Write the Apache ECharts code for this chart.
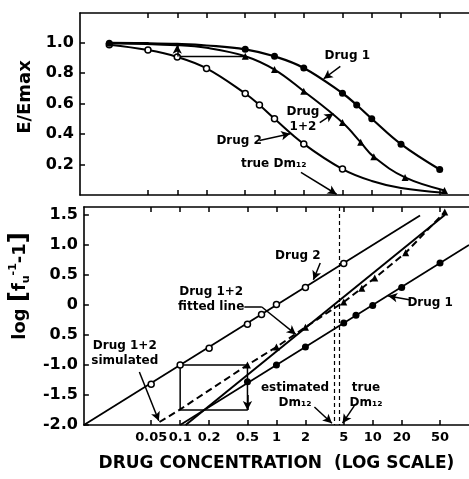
<!DOCTYPE html>
<html><head><meta charset="utf-8">
<script src="https://cdn.jsdelivr.net/npm/echarts@6/dist/echarts.min.js"></script>
<style>html,body{margin:0;padding:0;background:#fff}#c{width:469px;height:479px}</style>
</head><body><div id="c"></div>
<script>
// ---------- tick labels ----------
const xTickValues = [0.05, 0.1, 0.2, 0.5, 1, 2, 5, 10, 20, 50];
const xTickLabels = ['0.05', '0.1', '0.2', '0.5', '1', '2', '5', '10', '20', '50'];
const topYTicks = [0.2, 0.4, 0.6, 0.8, 1.0];
const topYLabels = ['0.2', '0.4', '0.6', '0.8', '1.0'];
const botYTicks = [-2, -1.5, -1, -0.5, 0, 0.5, 1, 1.5];
const botYLabels = ['-2.0', '-1.5', '-1.0', '0.5', '0', '0.5', '1.0', '1.5'];

// ---------- top panel (E/Emax) ----------
const drug1TopCurve = [[0.02, 0.998], [0.05, 0.995], [0.1, 0.99], [0.2, 0.98], [0.5, 0.955], [1, 0.909], [2, 0.833], [5, 0.667], [7, 0.59], [10, 0.5], [20, 0.333], [50, 0.167]];
const drug1TopPoints = [[0.02, 0.995], [0.5, 0.955], [1, 0.909], [2, 0.833], [5, 0.667], [7, 0.59], [10, 0.5], [20, 0.333], [50, 0.167]];
const drug2TopCurve = [[0.02, 0.985], [0.05, 0.95], [0.1, 0.905], [0.2, 0.83], [0.5, 0.665], [0.7, 0.59], [1, 0.5], [2, 0.335], [5, 0.17], [10, 0.092], [20, 0.046], [55, 0.015]];
const drug2TopPoints = [[0.02, 0.985], [0.05, 0.95], [0.1, 0.905], [0.2, 0.83], [0.5, 0.665], [0.7, 0.59], [1, 0.5], [2, 0.335], [5, 0.17]];
const comboTopCurve = [[0.02, 0.995], [0.1, 0.982], [0.2, 0.965], [0.5, 0.91], [1, 0.822], [2, 0.68], [5, 0.475], [7.7, 0.345], [10.5, 0.25], [22, 0.115], [56, 0.03]];
const comboTopPoints = [[0.5, 0.91], [1, 0.822], [2, 0.68], [5, 0.475], [7.7, 0.345], [10.5, 0.25], [22, 0.115], [56, 0.03]];
const topConstruct = [[0.1, 0.908], [0.5, 0.908]];

// ---------- bottom panel (median-effect plot) ----------
const drug2BotLine = [[0.01, -2.0], [31, 1.49]];
const drug2BotPoints = [[0.05, -1.32], [0.1, -1.0], [0.2, -0.72], [0.5, -0.32], [0.7, -0.16], [1, 0.01], [2, 0.29], [5, 0.69]];
const drug1BotLine = [[0.1, -2.0], [100, 1.0]];
const drug1BotPoints = [[0.5, -1.28], [1, -1.0], [2, -0.7], [5, -0.3], [6.7, -0.17], [10, -0.01], [20, 0.29], [50, 0.7]];
const fittedLine = [[0.114, -2.0], [56, 1.5]];
const simulatedLine = [[0.061, -1.95], [0.1, -1.74], [0.5, -1.0], [1, -0.7], [2, -0.37], [5, 0.05], [7.7, 0.28], [10.5, 0.45], [22, 0.87], [56, 1.55]];
const comboBotPoints = [[0.5, -1.0], [1, -0.7], [2, -0.37], [5, 0.05], [7.7, 0.28], [10.5, 0.45], [22, 0.87], [56, 1.55]];
const rectPath = [[0.1, -1.0], [0.1, -1.75], [0.5, -1.75], [0.5, -1.0], [0.1, -1.0]];
const trueDm12 = 4.54;
const estDm12 = 3.95;

// ---------- chart ----------
const FONT = 'DejaVu Sans';
function pick(vals, labels) {
  return function (v) {
    for (let i = 0; i < vals.length; i++) if (Math.abs(vals[i] - v) < 1e-6 * Math.max(1, Math.abs(v))) return labels[i];
    return '';
  };
}
function xAxis(gridIndex, position, showLabels) {
  return {
    type: 'log', logBase: 10, min: 0.01, max: 100, gridIndex, position,
    axisLine: { show: true, onZero: false, lineStyle: { color: '#000', width: 1.6 } },
    axisTick: { show: true, inside: true, length: 5, customValues: xTickValues, lineStyle: { color: '#000', width: 1.5 } },
    minorTick: { show: false }, splitLine: { show: false },
    axisLabel: showLabels ? { show: true, interval: 0, hideOverlap: false, customValues: xTickValues, formatter: pick(xTickValues, xTickLabels), color: '#000', fontFamily: FONT, fontWeight: 'bold', fontSize: 13, margin: 6 } : { show: false },
    name: showLabels ? 'DRUG CONCENTRATION  (LOG SCALE)' : '',
    nameLocation: 'middle', nameGap: 30,
    nameTextStyle: { color: '#000', fontFamily: FONT, fontWeight: 'bold', fontSize: 17 }
  };
}
const solid = (w) => ({ color: '#000', width: w });
const ann = (x, y, text) => ({ value: [x, y], label: { formatter: text } });
const arrow = (a, b) => [{ coord: a }, { coord: b }];

const labelStyle = { show: true, position: 'inside', color: '#000', opacity: 1, textBorderWidth: 0, fontFamily: FONT, fontWeight: 'bold', fontSize: 12, lineHeight: 15 };
const arrowLine = { symbol: ['none', 'arrow'], symbolSize: [7, 9], silent: true, label: { show: false }, lineStyle: { color: '#000', width: 1.5, type: 'solid', opacity: 1 }, emphasis: { disabled: true } };
const pts = (data, kind) => ({
  type: 'scatter', data, silent: true, z: 4,
  symbol: kind === 'tri' ? 'triangle' : 'circle',
  symbolSize: kind === 'open' ? 6 : 7,
  itemStyle: kind === 'open' ? { color: '#fff', borderColor: '#000', borderWidth: 1.5, opacity: 1 } : { color: '#000', opacity: 1 }
});

const option = {
  animation: false,
  backgroundColor: '#fff',
  grid: [
    { left: 80, right: -7, top: 13, height: 182 },
    { left: 80, right: -7, top: 207, height: 218 }
  ],
  xAxis: [xAxis(0, 'bottom', false), xAxis(0, 'top', false), xAxis(1, 'bottom', true), xAxis(1, 'top', false)],
  yAxis: [
    {
      type: 'value', gridIndex: 0, min: 0, max: 1.193,
      axisLine: { show: true, onZero: false, lineStyle: { color: '#000', width: 1.6 } },
      axisTick: { show: true, inside: true, length: 5, customValues: topYTicks, lineStyle: { color: '#000', width: 1.5 } },
      splitLine: { show: false },
      axisLabel: { customValues: topYTicks, formatter: pick(topYTicks, topYLabels), color: '#000', fontFamily: FONT, fontWeight: 'bold', fontSize: 16, margin: 6 },
      name: 'E/Emax', nameLocation: 'middle', nameGap: 44,
      nameTextStyle: { color: '#000', fontFamily: FONT, fontWeight: 'bold', fontSize: 18, padding: [0, 0, 0, 14] }
    },
    {
      type: 'value', gridIndex: 1, min: -2, max: 1.633,
      axisLine: { show: true, onZero: false, lineStyle: { color: '#000', width: 1.6 } },
      axisTick: { show: true, inside: true, length: 5, customValues: botYTicks, lineStyle: { color: '#000', width: 1.5 } },
      splitLine: { show: false },
      axisLabel: { customValues: botYTicks, formatter: pick(botYTicks, botYLabels), color: '#000', fontFamily: FONT, fontWeight: 'bold', fontSize: 16, margin: 6 },
      name: '{t|log }{b|[}{t|f}{s|u}{p|-1}{t|-1}{b|]}', nameLocation: 'middle', nameGap: 42,
      nameTextStyle: {
        color: '#000', fontFamily: FONT, fontWeight: 'bold', fontSize: 18, padding: [0, 0, 0, 60],
        rich: {
          t: { fontFamily: FONT, fontWeight: 'bold', fontSize: 18, color: '#000' },
          b: { fontFamily: FONT, fontWeight: 'bold', fontSize: 24, color: '#000' },
          s: { fontFamily: FONT, fontWeight: 'bold', fontSize: 11, color: '#000', verticalAlign: 'bottom' },
          p: { fontFamily: FONT, fontWeight: 'bold', fontSize: 11, color: '#000', verticalAlign: 'top' }
        }
      }
    }
  ],
  series: [
    // ---- top panel ----
    { type: 'line', xAxisIndex: 0, yAxisIndex: 0, data: drug2TopCurve, smooth: 0.4, showSymbol: false, lineStyle: solid(2), z: 2, silent: true },
    { type: 'line', xAxisIndex: 0, yAxisIndex: 0, data: drug1TopCurve, smooth: 0.4, showSymbol: false, lineStyle: solid(2.2), z: 2, silent: true },
    { type: 'line', xAxisIndex: 0, yAxisIndex: 0, data: comboTopCurve, smooth: 0.4, showSymbol: false, lineStyle: solid(2), z: 2, silent: true },
    { type: 'line', xAxisIndex: 0, yAxisIndex: 0, data: topConstruct, showSymbol: false, lineStyle: solid(1.5), z: 2, silent: true },
    Object.assign(pts(drug2TopPoints, 'open'), { xAxisIndex: 0, yAxisIndex: 0 }),
    Object.assign(pts(drug1TopPoints, 'fill'), { xAxisIndex: 0, yAxisIndex: 0 }),
    Object.assign(pts(comboTopPoints, 'tri'), { xAxisIndex: 0, yAxisIndex: 0 }),
    {
      type: 'scatter', xAxisIndex: 0, yAxisIndex: 0, symbolSize: 0, silent: true, clip: false, z: 5,
      itemStyle: { opacity: 1 },
      label: labelStyle,
      data: [
        ann(5.6, 0.915, 'Drug 1'),
        ann(1.96, 0.495, 'Drug\n1+2'),
        ann(0.433, 0.357, 'Drug 2'),
        ann(0.98, 0.207, 'true Dm₁₂')
      ],
      markLine: Object.assign({}, arrowLine, {
        data: [
          arrow([4.75, 0.843], [3.2, 0.762]),
          arrow([2.92, 0.475], [4.04, 0.534]),
          arrow([0.70, 0.357], [1.45, 0.402]),
          arrow([1.87, 0.148], [4.35, 0.005]),
          arrow([0.1, 0.908], [0.1, 0.985]),
          [{ coord: [trueDm12, 0.5], symbol: 'none', lineStyle: { type: [4, 3], width: 1.2 } }, { coord: [trueDm12, -0.085], symbol: 'none' }]
        ]
      })
    },
    // ---- bottom panel ----
    { type: 'line', xAxisIndex: 2, yAxisIndex: 1, data: drug2BotLine, showSymbol: false, lineStyle: solid(1.8), z: 2, silent: true },
    { type: 'line', xAxisIndex: 2, yAxisIndex: 1, data: drug1BotLine, showSymbol: false, lineStyle: solid(1.8), z: 2, silent: true },
    { type: 'line', xAxisIndex: 2, yAxisIndex: 1, data: fittedLine, showSymbol: false, lineStyle: solid(2), z: 2, silent: true },
    { type: 'line', xAxisIndex: 2, yAxisIndex: 1, data: simulatedLine, showSymbol: false, lineStyle: { color: '#000', width: 2, type: [7, 4] }, z: 2, silent: true },
    { type: 'line', xAxisIndex: 2, yAxisIndex: 1, data: rectPath, showSymbol: false, lineStyle: solid(1.5), z: 2, silent: true },
    Object.assign(pts(drug2BotPoints, 'open'), { xAxisIndex: 2, yAxisIndex: 1 }),
    Object.assign(pts(drug1BotPoints, 'fill'), { xAxisIndex: 2, yAxisIndex: 1 }),
    Object.assign(pts(comboBotPoints, 'tri'), { xAxisIndex: 2, yAxisIndex: 1 }),
    {
      type: 'scatter', xAxisIndex: 2, yAxisIndex: 1, symbolSize: 0, silent: true, clip: false, z: 5,
      itemStyle: { opacity: 1 },
      label: labelStyle,
      data: [
        ann(1.67, 0.817, 'Drug 2'),
        ann(0.21, 0.10, 'Drug 1+2\nfitted line'),
        ann(39.5, 0.033, 'Drug 1'),
        ann(0.0266, -0.80, 'Drug 1+2\nsimulated'),
        ann(1.56, -1.5, 'estimated\nDm₁₂'),
        ann(8.5, -1.5, 'true\nDm₁₂')
      ],
      markLine: Object.assign({}, arrowLine, {
        data: [
          arrow([2.85, 0.70], [2.42, 0.42]),
          [{ coord: [0.464, -0.033], symbol: 'none' }, { coord: [0.705, -0.033], symbol: 'none' }],
          arrow([0.705, -0.033], [1.59, -0.49]),
          arrow([24.8, 0.083], [14.5, 0.15]),
          arrow([0.0377, -1.117], [0.060, -1.93]),
          arrow([2.48, -1.7], [3.77, -1.97]),
          arrow([6.43, -1.68], [4.86, -1.97]),
          arrow([0.5, -1.5], [0.5, -1.75]),
          [{ coord: [trueDm12, 1.633], symbol: 'none', lineStyle: { type: [4, 3], width: 1.2 } }, { coord: [trueDm12, -2], symbol: 'none' }],
          [{ coord: [estDm12, 0], symbol: 'none', lineStyle: { type: [4, 3], width: 1.2 } }, { coord: [estDm12, -2], symbol: 'none' }]
        ]
      })
    }
  ]
};
const chart = echarts.init(document.getElementById('c'), null, { renderer: 'canvas' });
chart.setOption(option);
</script>
</body></html>
